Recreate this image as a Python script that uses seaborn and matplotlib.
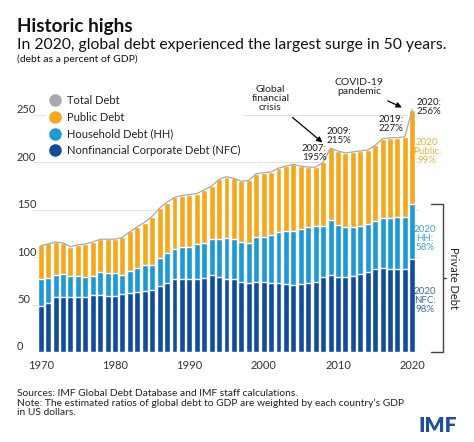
import numpy as np
import pandas as pd
import seaborn as sns
import matplotlib.pyplot as plt
from matplotlib import transforms
from matplotlib.lines import Line2D

# global debt, percent of GDP
years = list(range(1970, 2021))
nfc = [49, 52, 57.5, 58, 58, 58, 57.5, 60, 60, 59,
       59, 61, 62, 63.5, 64.5, 65.5, 69.5, 72.5, 76.5, 77.5,
       77.5, 77.5, 78.5, 81, 79.5, 77.5, 77, 74, 73, 74,
       73.5, 73, 72.5, 71.5, 70.5, 71.5, 73, 74, 79.5, 81,
       79.5, 79.5, 80, 82, 84.5, 88, 89, 88, 88, 88,
       98]
hh = [28, 26, 24, 24, 22, 22, 22, 20, 24, 24,
      24, 20, 23, 25, 27, 26, 30, 32, 32, 33.5,
      33.5, 36, 36, 38, 39.5, 42.5, 42, 42.5, 41.5, 47.5,
      48, 50.5, 54.5, 56.5, 57.5, 58, 58.5, 59, 53.5, 58,
      54.5, 52, 52, 51, 51, 50.5, 52, 53, 54, 54,
      58]
public = [35.5, 36.5, 35, 33, 31, 33, 34.5, 36, 35.5, 36,
          36, 40, 42.5, 43.5, 45, 51, 52, 53, 54.5, 54,
          55, 53.5, 56.5, 56, 63, 65, 64, 63.5, 66.5, 66.5,
          67.5, 66.5, 67, 68, 70, 66.5, 63.5, 62, 67, 76,
          78, 78.5, 79, 79, 77.5, 79.5, 84, 85, 84, 85,
          99]
total = [112, 114, 116, 115, 111, 113, 114, 116, 119, 119,
         119, 121, 127, 132, 137, 143, 152, 158, 163, 165,
         166, 167, 171, 175, 182, 185, 183, 180, 181, 188,
         189, 190, 194, 196, 198, 196, 195, 195, 200, 215,
         212, 210, 211, 212, 213, 218, 225, 226, 226, 227,
         256]
xtick_years = [1970, 1980, 1990, 2000, 2010, 2020]
ytick_vals = [0, 50, 100, 150, 200, 250]

c_total = "#A7A9AC"
c_public = "#F5A81C"
c_hh = "#1C9AD6"
c_nfc = "#124C9C"

sns.set_theme(style="white")
plt.rcParams["font.family"] = ["Lato", "DejaVu Sans"]

df = pd.DataFrame({"year": years, "nfc": nfc, "hh": hh, "public": public})
df["private"] = df["nfc"] + df["hh"]
df["stack"] = df["private"] + df["public"]

fig = plt.figure(figsize=(4.74, 4.42), dpi=100)
ax = fig.add_axes([33.3 / 474, 90 / 442, 386.4 / 474, 248.4 / 442])

# stacked bars: draw cumulative layers from the top down
sns.barplot(data=df, x="year", y="stack", color=c_public, saturation=1, width=0.8, ax=ax)
sns.barplot(data=df, x="year", y="private", color=c_hh, saturation=1, width=0.8, ax=ax)
sns.barplot(data=df, x="year", y="nfc", color=c_nfc, saturation=1, width=0.8, ax=ax)
sns.lineplot(x=np.arange(len(years)), y=total, color=c_total, lw=0.9, ax=ax)

ax.set_xlim(-1, 51)
ax.set_ylim(0, 262)
ax.set_yticks(ytick_vals)
ax.yaxis.grid(True, color="#dddddd", lw=0.6)
ax.set_axisbelow(True)
ax.tick_params(axis="y", length=0, labelleft=False)
ax.set_xticks([years.index(y) for y in xtick_years])
ax.set_xticklabels([str(y) for y in xtick_years], fontsize=8, color="#333333")
ax.tick_params(axis="x", length=0, pad=6)
ax.set_xlabel("")
ax.set_ylabel("")
sns.despine(ax=ax, left=True, bottom=True)

# y labels sit left-aligned, just above each gridline
ytrans = transforms.blended_transform_factory(fig.transFigure, ax.transData)
ytrans = transforms.offset_copy(ytrans, fig=fig, y=5, units="dots")
for v in ytick_vals:
    ax.text(17 / 474, v, str(v), transform=ytrans, ha="left", va="center",
            fontsize=8, color="#333333")

# legend
handles = [Line2D([], [], marker="o", ls="", markersize=8, color=c)
           for c in [c_total, c_public, c_hh, c_nfc]]
labels = ["Total Debt", "Public Debt", "Household Debt (HH)", "Nonfinancial Corporate Debt (NFC)"]
leg = ax.legend(handles, labels, loc="upper left", bbox_to_anchor=(46 / 474, 350 / 442),
                bbox_transform=fig.transFigure, fontsize=8, frameon=True, facecolor="white",
                edgecolor="none", framealpha=1, handlelength=1.0, handletextpad=0.6,
                labelspacing=0.5, borderpad=0.3, borderaxespad=0)
for t in leg.get_texts():
    t.set_color("#222222")

# callouts
idx = {y: years.index(y) for y in years}
ax.text(idx[2007] - 0.2, total[idx[2007]] + 5, "2007:\n195%", ha="center", va="bottom",
        fontsize=7, linespacing=1.0, color="#222222")
ax.text(idx[2009] + 1.1, total[idx[2009]] + 3, "2009:\n215%", ha="center", va="bottom",
        fontsize=7, linespacing=1.0, color="#222222")
ax.text(idx[2019] - 0.2, total[idx[2019]] + 4, "2019:\n227%", ha="right", va="bottom",
        fontsize=7, linespacing=1.0, color="#222222")
ax.text(idx[2020] + 0.6, total[idx[2020]] + 2, "2020:\n256%", ha="left", va="center",
        fontsize=7, linespacing=1.0, color="#222222", clip_on=False)

last = len(years) - 1
ax.text(last + 2.0, df["private"].iloc[-1] + public[-1] / 2 + 6, "2020\nPublic:\n99%",
        ha="center", va="center", fontsize=7, linespacing=1.0, color="#E9B437", clip_on=False)
ax.text(last + 1.7, nfc[-1] + hh[-1] / 2 - 7, "2020\nHH:\n58%",
        ha="center", va="center", fontsize=7, linespacing=1.0, color="#3AA5DC", clip_on=False)
ax.text(last + 1.7, nfc[-1] / 2 + 5, "2020\nNFC:\n98%",
        ha="center", va="center", fontsize=7, linespacing=1.0, color="#3D6DAA", clip_on=False)

# private debt bracket
ptop = df["private"].iloc[-1]
bx, bl = last + 4.2, last + 2.5
ax.plot([bl, bx, bx, bl], [ptop, ptop, 0, 0], color="#444444", lw=1, clip_on=False)
ax.plot([bx, bx + 0.4], [ptop / 2, ptop / 2], color="#444444", lw=1, clip_on=False)
ax.text(bx + 1.3, ptop / 2, "Private Debt", rotation=-90, ha="center", va="center",
        fontsize=8, color="#222222", clip_on=False)

# event arrows
ax.annotate("Global\nfinancial\ncrisis", xy=(37.9, 221), xytext=(30.9, 267),
            ha="center", va="center", fontsize=7.5, linespacing=1.0, color="#222222",
            annotation_clip=False,
            arrowprops=dict(arrowstyle="-|>", color="black", lw=0.9, mutation_scale=8,
                            shrinkA=2, shrinkB=0))
ax.annotate("COVID-19\npandemic", xy=(48.6, 258), xytext=(42.8, 279),
            ha="center", va="center", fontsize=7.5, linespacing=1.0, color="#222222",
            annotation_clip=False,
            arrowprops=dict(arrowstyle="-|>", color="black", lw=0.9, mutation_scale=8,
                            shrinkA=2, shrinkB=0))

# titles and notes
fig.text(17 / 474, 1 - 31.7 / 442, "Historic highs", fontsize=13.6, fontweight="bold",
         color="#111111", va="baseline")
fig.text(17 / 474, 1 - 49.3 / 442, "In 2020, global debt experienced the largest surge in 50 years.",
         fontsize=11.3, color="#111111", va="baseline")
fig.text(17 / 474, 1 - 61.7 / 442, "(debt as a percent of GDP)", fontsize=7.5,
         color="#111111", va="baseline")
fig.text(17 / 474, 1 - 389 / 442,
         "Sources: IMF Global Debt Database and IMF staff calculations.\n"
         "Note: The estimated ratios of global debt to GDP are weighted by each country\u2019s GDP\n"
         "in US dollars.", fontsize=7.4, linespacing=1.05, color="#222222", va="top")
fig.text(418 / 474, 1 - 425 / 442, "IMF", fontsize=15, fontweight="heavy",
         color="#1F4E9C", va="center")

fig.savefig("out.png", dpi=100)
